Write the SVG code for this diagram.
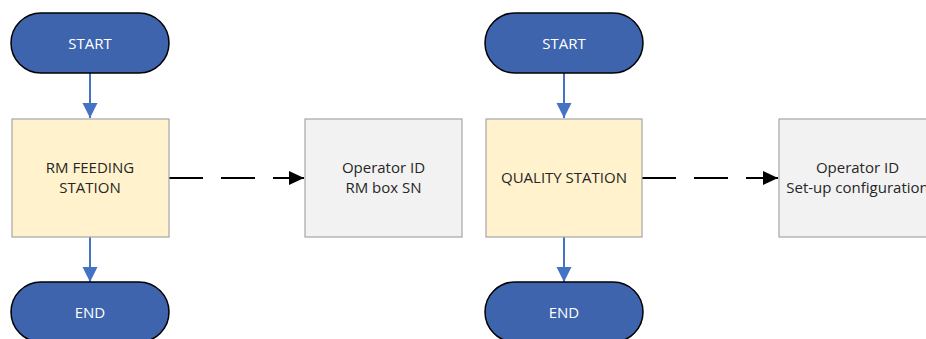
<svg xmlns="http://www.w3.org/2000/svg" width="926" height="339" viewBox="0 0 926 339">
<style>
.term{fill:#3d64ad;stroke:#000;stroke-width:1.5}
.proc{fill:#fff2cc;stroke:#a6a6a6;stroke-width:1.2}
.data{fill:#f2f2f2;stroke:#a6a6a6;stroke-width:1.2}
text{font-family:"Open Sans","Liberation Sans",sans-serif;font-size:15px;text-anchor:middle}
.wt{fill:#fff}
.dt{fill:#262626}
.flow{stroke:#4472c4;stroke-width:2;fill:none}
.dash{stroke:#000;stroke-width:2;fill:none;stroke-dasharray:34 18}
</style>
<defs>
<marker id="ab" markerUnits="userSpaceOnUse" markerWidth="16" markerHeight="16" refX="15" refY="7.5" orient="auto"><path d="M0,0 L15,7.5 L0,15 Z" fill="#4472c4"/></marker>
<marker id="ak" markerUnits="userSpaceOnUse" markerWidth="16" markerHeight="16" refX="15" refY="7" orient="auto"><path d="M0,0 L15,7 L0,14 Z" fill="#000"/></marker>
</defs>
<g id="connectors">
<line class="flow" x1="90" y1="73" x2="90" y2="118" marker-end="url(#ab)"/>
<line class="flow" x1="90" y1="237" x2="90" y2="282" marker-end="url(#ab)"/>
<line class="dash" x1="169" y1="178" x2="304" y2="178" marker-end="url(#ak)"/>
<line class="flow" x1="564" y1="73" x2="564" y2="118" marker-end="url(#ab)"/>
<line class="flow" x1="564" y1="237" x2="564" y2="282" marker-end="url(#ab)"/>
<line class="dash" x1="642" y1="178" x2="778" y2="178" marker-end="url(#ak)"/>
</g>
<g id="start1"><rect class="term" x="11" y="13" width="158" height="60" rx="30"/><text class="wt" x="90" y="49">START</text></g>
<g id="station1"><rect class="proc" x="12" y="119" width="157" height="118"/><text class="dt" x="90" y="173">RM FEEDING</text><text class="dt" x="90" y="193">STATION</text></g>
<g id="data1"><rect class="data" x="305" y="119" width="157" height="118"/><text class="dt" x="383.5" y="173">Operator ID</text><text class="dt" x="383.5" y="193">RM box SN</text></g>
<g id="end1"><rect class="term" x="11" y="282" width="158" height="60" rx="30"/><text class="wt" x="90" y="318">END</text></g>
<g id="start2"><rect class="term" x="485" y="13" width="158" height="60" rx="30"/><text class="wt" x="564" y="49">START</text></g>
<g id="station2"><rect class="proc" x="486" y="119" width="156" height="118"/><text class="dt" x="564" y="183">QUALITY STATION</text></g>
<g id="data2"><rect class="data" x="779" y="119" width="157" height="118"/><text class="dt" x="857.5" y="173">Operator ID</text><text class="dt" x="857.5" y="193">Set-up configuration</text></g>
<g id="end2"><rect class="term" x="485" y="282" width="158" height="60" rx="30"/><text class="wt" x="564" y="318">END</text></g>
</svg>
